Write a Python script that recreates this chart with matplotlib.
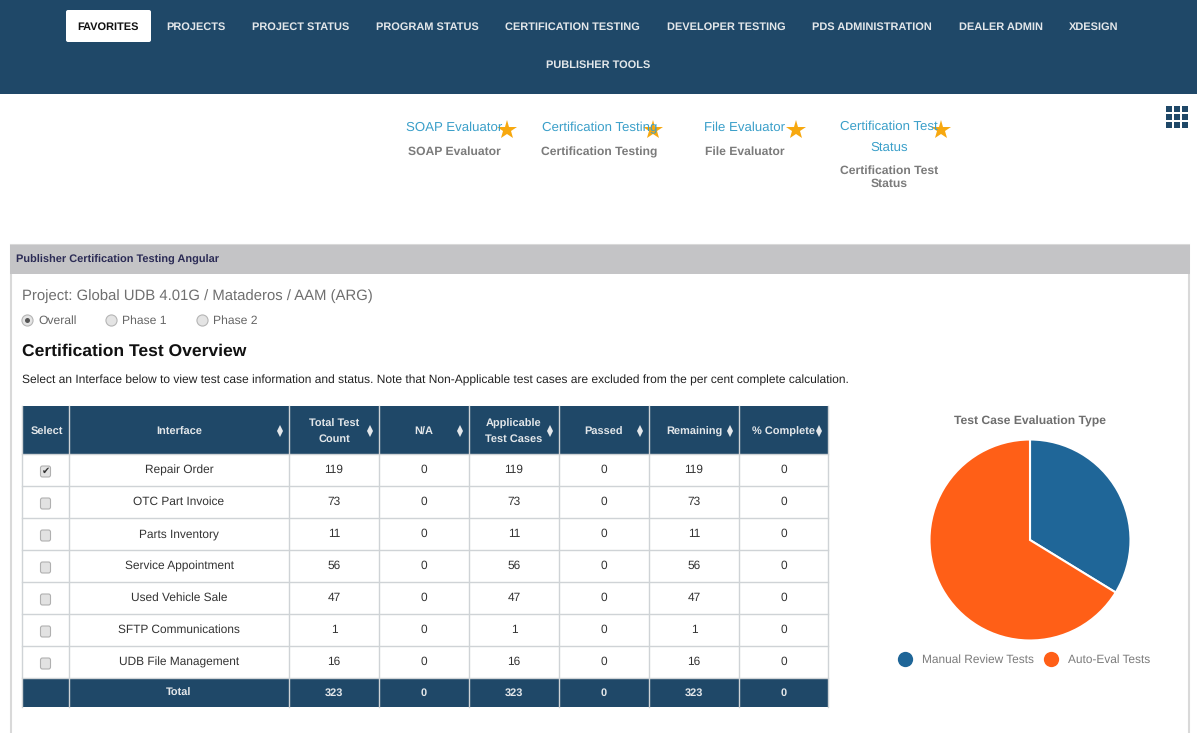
import matplotlib.pyplot as plt
from matplotlib.patches import FancyBboxPatch, Rectangle

# Datos de la tabla
interfaces = ['Repair Order', 'OTC Part Invoice', 'Parts Inventory', 'Service Appointment',
              'Used Vehicle Sale', 'SFTP Communications', 'UDB File Management']
total_count = [119, 73, 11, 56, 47, 1, 16]
na_count = [0, 0, 0, 0, 0, 0, 0]
applicable = [119, 73, 11, 56, 47, 1, 16]
passed = [0, 0, 0, 0, 0, 0, 0]
remaining = [119, 73, 11, 56, 47, 1, 16]
complete = [0, 0, 0, 0, 0, 0, 0]
totals = ['Total', 323, 0, 323, 0, 323, 0]
headers = ['Interface', 'Total Test\nCount', 'N/A', 'Applicable\nTest Cases', 'Passed', 'Remaining', '% Complete']

# Datos del pastel
pie_labels = ['Manual Review Tests', 'Auto-Eval Tests']
pie_values = [109, 214]
pie_colors = ['#1f6698', '#ff5f17']

# Textos de la página
nav_items = ['FAVORITES', 'PROJECTS', 'PROJECT STATUS', 'PROGRAM STATUS', 'CERTIFICATION TESTING',
             'DEVELOPER TESTING', 'PDS ADMINISTRATION', 'DEALER ADMIN', 'XDESIGN']
nav_x = [108.5, 195.5, 300.5, 427, 572.5, 726, 872, 1000.5, 1094]
fav_links = ['SOAP Evaluator', 'Certification Testing', 'File Evaluator', 'Certification Test\nStatus']
fav_names = ['SOAP Evaluator', 'Certification Testing', 'File Evaluator', 'Certification Test\nStatus']
fav_x = [454.5, 599.5, 744.5, 889]
star_x = [507, 653, 796, 941]
phases = ['Overall', 'Phase 1', 'Phase 2']
phase_x = [27, 111, 202]

NAVY = '#1f4868'
col_edges = [22, 69, 289, 379, 469, 559, 649, 739, 828]
row_top = 454
row_h = 32

plt.rcParams['font.family'] = ['Liberation Sans', 'DejaVu Sans']
plt.rcParams['text.hinting'] = 'none'

plt.figure(figsize=(11.97, 7.33), dpi=100)
plt.axes([0, 0, 1, 1])
plt.xlim(0, 1197)
plt.ylim(733, 0)
plt.axis('off')
ax = plt.gca()

# Barra de navegación
ax.add_patch(Rectangle((0, 0), 1197, 94, color=NAVY, lw=0))
ax.add_patch(FancyBboxPatch((66, 10), 85, 32, boxstyle='round,pad=0,rounding_size=2', color='white', lw=0))
for i in range(len(nav_items)):
    plt.text(nav_x[i], 27.5, nav_items[i], ha='center', va='center', fontsize=7.95, fontweight='bold',
             color='#111111' if i == 0 else '#e3e7ea')
plt.text(598, 65, 'PUBLISHER TOOLS', ha='center', va='center', fontsize=7.95, fontweight='bold', color='#e3e7ea')

# Favoritos
for i in range(4):
    y_link = 128 if i < 3 else 137
    y_name = 152 if i < 3 else 177.5
    plt.text(fav_x[i], y_link, fav_links[i], ha='center', va='center', fontsize=9.5, color='#3a9fc9', linespacing=1.9)
    plt.text(fav_x[i], y_name, fav_names[i], ha='center', va='center', fontsize=8.7, fontweight='bold',
             color='#7b7b7b', linespacing=1.15)
    plt.plot(star_x[i], 130, marker='*', markersize=15, color='#f7a80f', markeredgewidth=0)

# Icono de cuadrícula
for r in range(3):
    for c in range(3):
        ax.add_patch(Rectangle((1165.5 + c * 8, 106 + r * 8), 6.5, 6, color=NAVY, lw=0))

# Panel principal
ax.add_patch(Rectangle((10.5, 245), 1178.5, 500, facecolor='white', edgecolor='#d9d9d9', lw=1.5))
ax.add_patch(Rectangle((10, 245), 1180, 29, color='#c4c4c6', lw=0))
plt.text(16, 259.5, 'Publisher Certification Testing Angular', va='center', fontsize=7.93, fontweight='bold', color='#2b2b55')
plt.text(22, 296.5, 'Project: Global UDB 4.01G / Mataderos / AAM (ARG)', va='center', fontsize=10.7, color='#6f6f6f')

for i in range(3):
    plt.plot(phase_x[i], 320, marker='o', markersize=8, color='#e4e4e4', markeredgecolor='#b5b5b5', markeredgewidth=0.8)
    plt.text(phase_x[i] + 11, 321, phases[i], va='center', fontsize=8.7, color='#666666')
plt.plot(phase_x[0], 320, marker='o', markersize=3.6, color='#555555', markeredgewidth=0)

plt.text(22, 351.5, 'Certification Test Overview', va='center', fontsize=12.6, fontweight='bold', color='#111111')
plt.text(22, 380.5, 'Select an Interface below to view test case information and status. Note that Non-Applicable test cases '
         'are excluded from the per cent complete calculation.', va='center', fontsize=8.64, color='#222222')

# Cabecera y total de la tabla
n_rows = len(interfaces)
table_bottom = row_top + n_rows * row_h
ax.add_patch(Rectangle((22, 406), 806, 48, color=NAVY, lw=0))
ax.add_patch(Rectangle((22, table_bottom), 806, 29, color=NAVY, lw=0))

# Lineas de la tabla
for x in col_edges:
    plt.plot([x, x], [406, table_bottom + 29], color='#cfd3d6', linewidth=1)
for r in range(n_rows + 1):
    plt.plot([22, 828], [row_top + r * row_h] * 2, color='#cfd3d6', linewidth=1)

plt.text(46.5, 435, 'Select', ha='center', va='baseline', fontsize=7.9, fontweight='bold', color='#e3e7ea')
for i in range(len(headers)):
    left, right = col_edges[i + 1], col_edges[i + 2]
    center = (left + right) / 2
    if i == 6:
        center = 783.5
    if '\n' in headers[i]:
        plt.text(center, 431.5, headers[i], ha='center', va='center', fontsize=7.9, fontweight='bold', color='#e3e7ea', linespacing=1.55)
    else:
        plt.text(center, 435, headers[i], ha='center', va='baseline', fontsize=7.9, fontweight='bold', color='#e3e7ea')
    # Flechas de ordenar
    plt.plot(right - 9, 428, marker='^', markersize=4.5, color='#e3e7ea', markeredgewidth=0)
    plt.plot(right - 9, 434, marker='v', markersize=4.5, color='#e3e7ea', markeredgewidth=0)

# Filas de la tabla
columns = [total_count, na_count, applicable, passed, remaining, complete]
for r in range(n_rows):
    y = row_top + r * row_h + 16
    ax.add_patch(FancyBboxPatch((40.5, y - 4), 10, 11, boxstyle='round,pad=0,rounding_size=2',
                                facecolor='#e2e2e2', edgecolor='#b0b0b0', lw=0.8))
    if r == 0:
        plt.text(45.5, y + 1.5, '✔', ha='center', va='center', fontsize=7, color='#333333', family='DejaVu Sans')
    plt.text(179, y, interfaces[r], ha='center', va='center', fontsize=8.6, color='#333333')
    for c in range(len(columns)):
        x = (col_edges[c + 2] + col_edges[c + 3]) / 2
        plt.text(x, y, columns[c][r], ha='center', va='center', fontsize=8.6, color='#333333')

for i in range(len(totals)):
    x = (col_edges[i + 1] + col_edges[i + 2]) / 2
    plt.text(x, table_bottom + 18, totals[i], ha='center', va='baseline', fontsize=7.9, fontweight='bold', color='#e3e7ea')

# Título y leyenda del pastel
plt.text(1029.5, 421.5, 'Test Case Evaluation Type', ha='center', va='center', fontsize=8.7, fontweight='bold', color='#6e6e6e')
legend_x = [904.5, 1051]
for i in range(2):
    plt.plot(legend_x[i], 659, marker='o', markersize=11, color=pie_colors[i], markeredgewidth=0)
    plt.text(legend_x[i] + 17, 660, pie_labels[i], va='center', fontsize=8.6, color='#7b7b7b')

# Graficar el pastel
plt.axes([929.5 / 1197, 1 - 640.5 / 733, 201 / 1197, 201 / 733])
plt.pie(pie_values, colors=pie_colors, startangle=90, counterclock=False,
        wedgeprops={'edgecolor': 'white', 'linewidth': 1.5})
plt.xlim(-1, 1)
plt.ylim(-1, 1)

plt.savefig("out.png", dpi=100)
print("Gráfico guardado como out.png")
